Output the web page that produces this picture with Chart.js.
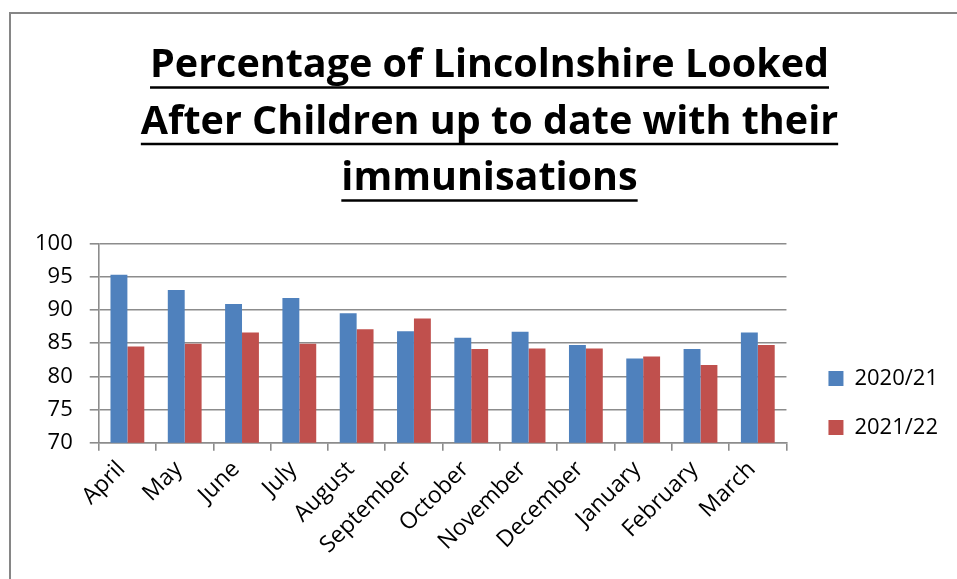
<!DOCTYPE html>
<html>
<head>
<meta charset="utf-8">
<script src="https://cdn.jsdelivr.net/npm/chart.js@4/dist/chart.umd.min.js"></script>
<style>
	html, body { margin: 0; padding: 0; background: #fff; overflow: hidden; }
	#wrap { position: relative; width: 957px; height: 579px; }
	#frame { position: absolute; left: 9px; top: 12px; width: 960px; height: 600px; border-left: 2px solid #868686; border-top: 2px solid #868686; }
	#chart { position: absolute; left: 0; top: 0; }
</style>
</head>
<body>
<div id="wrap">
	<div id="frame"></div>
	<canvas id="chart" width="957" height="579"></canvas>
</div>
<script>
var titleLines = ['Percentage of Lincolnshire Looked', 'After Children up to date with their', 'immunisations'];
var months = ['April', 'May', 'June', 'July', 'August', 'September', 'October', 'November', 'December', 'January', 'February', 'March'];
var yr2021 = [95.3, 93.0, 90.9, 91.8, 89.5, 86.8, 85.8, 86.7, 84.7, 82.7, 84.1, 86.6];
var yr2122 = [84.5, 84.9, 86.6, 84.9, 87.1, 88.7, 84.1, 84.2, 84.2, 83.0, 81.7, 84.7];

var gridGrey = '#8c8c8c';
var fontFamily = '"Open Sans", Lato, sans-serif';

// chart.js title has no underline, so draw it under each line
var underlineTitle = {
	id: 'underlineTitle',
	afterDraw: function(chart){
		var t = chart.titleBlock;
		if(!t) return;
		var ctx = chart.ctx;
		var f = Chart.helpers.toFont(t.options.font);
		var cx = (t.left + t.right) / 2;
		var y = t.top + t._padding.top + f.lineHeight / 2;
		ctx.save();
		ctx.font = f.string;
		ctx.strokeStyle = '#000';
		ctx.lineWidth = 2.5;
		titleLines.forEach(function(line){
			var w = ctx.measureText(line).width;
			var uy = y + f.size * 0.54;
			ctx.beginPath();
			ctx.moveTo(cx - w / 2, uy);
			ctx.lineTo(cx + w / 2, uy);
			ctx.stroke();
			y += f.lineHeight;
		});
		ctx.restore();
	}
};

// title centred over the whole frame, legend lower beside the month labels
var shiftBoxes = {
	id: 'shiftBoxes',
	afterLayout: function(chart){
		chart.titleBlock.left += 14;
		chart.titleBlock.right += 14;
		chart.legend.left += 15;
		chart.legend.right += 15;
		chart.legend.top += 113;
		chart.legend.bottom += 113;
	}
};

var ctx = document.getElementById('chart').getContext('2d');
var mychart = new Chart(ctx, {
	type: 'bar',
	data: {
		labels: months,
		datasets: [{
			label: '2020/21',
			data: yr2021,
			backgroundColor: '#4f81bd',
			borderWidth: 0,
			categoryPercentage: 0.59,
			barPercentage: 1.0
		}, {
			label: '2021/22',
			data: yr2122,
			backgroundColor: '#c0504d',
			borderWidth: 0,
			categoryPercentage: 0.59,
			barPercentage: 1.0
		}]
	},
	options: {
		responsive: false,
		animation: false,
		layout: { padding: { left: 18, right: 24, top: 16, bottom: 15 } },
		plugins: {
			title: {
				display: true,
				text: titleLines,
				color: '#000',
				font: { family: fontFamily, size: 39.5, weight: 'bold', lineHeight: 1.43 },
				padding: { top: 22, bottom: 36 }
			},
			legend: {
				position: 'right',
				align: 'center',
				labels: {
					color: '#000',
					font: { family: fontFamily, size: 22 },
					boxWidth: 15,
					boxHeight: 15,
					padding: 27
				}
			},
			tooltip: { enabled: false }
		},
		scales: {
			x: {
				grid: { display: true, drawOnChartArea: false, drawTicks: true, tickLength: 8, color: gridGrey, lineWidth: 1.6 },
				border: { color: gridGrey, width: 1.6 },
				ticks: { color: '#000', font: { family: fontFamily, size: 23 }, minRotation: 45, maxRotation: 45, autoSkip: false, padding: 5, labelOffset: -6 }
			},
			y: {
				min: 70,
				max: 100,
				grid: { color: gridGrey, lineWidth: 1.6, tickLength: 9 },
				border: { color: gridGrey, width: 1.6 },
				ticks: { stepSize: 5, color: '#000', font: { family: fontFamily, size: 22 }, padding: 17 }
			}
		}
	},
	plugins: [underlineTitle, shiftBoxes]
});
</script>
</body>
</html>
